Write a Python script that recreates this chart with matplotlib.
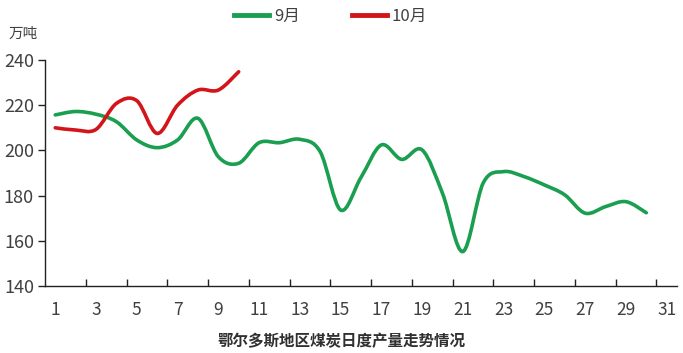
import matplotlib.pyplot as plt
from matplotlib.path import Path
from matplotlib.patches import PathPatch
from matplotlib.lines import Line2D

plt.rcParams['font.family'] = ['Liberation Sans Narrow', 'Noto Sans CJK SC', 'DejaVu Sans']

# 日度产量（万吨）
days = list(range(1, 32))
sep_days = list(range(1, 31))
sep_vals = [215.7, 217.2, 216.0, 212.7, 204.6, 201.2, 204.6, 214.2, 197.2, 194.3,
            203.4, 203.4, 204.9, 199.4, 173.6, 188.0, 202.4, 196.0, 200.2, 181.0,
            155.2, 185.6, 190.6, 188.4, 184.7, 180.3, 172.2, 175.1, 177.3, 172.4]
oct_days = list(range(1, 11))
oct_vals = [210.0, 209.0, 209.3, 220.8, 222.0, 207.5, 220.0, 226.7, 226.7, 234.8]

y_ticks = [140, 160, 180, 200, 220, 240]
x_labels = [str(d) for d in days[::2]]

GREEN = '#1a9e50'
RED = '#d3141a'
CJK = ['Noto Sans CJK SC', 'DejaVu Sans']


def smooth_path(xs, ys):
    # Excel 风格平滑线：用三次贝塞尔曲线连接各点
    pts = list(zip(xs, ys))
    n = len(pts)
    verts = [pts[0]]
    codes = [Path.MOVETO]
    for i in range(n - 1):
        p0 = pts[i - 1] if i > 0 else pts[i]
        p1 = pts[i]
        p2 = pts[i + 1]
        p3 = pts[i + 2] if i + 2 < n else pts[i + 1]
        c1 = (p1[0] + (p2[0] - p0[0]) / 6, p1[1] + (p2[1] - p0[1]) / 6)
        c2 = (p2[0] - (p3[0] - p1[0]) / 6, p2[1] - (p3[1] - p1[1]) / 6)
        verts += [c1, c2, p2]
        codes += [Path.CURVE4] * 3
    return Path(verts, codes)


fig = plt.figure(figsize=(6.83, 3.53), dpi=100)
ax = fig.add_axes([0.066, 0.19, 0.925, 0.64])

for xs, ys, c in [(sep_days, sep_vals, GREEN), (oct_days, oct_vals, RED)]:
    ax.add_patch(PathPatch(smooth_path(xs, ys), fill=False, edgecolor=c,
                           lw=2.6, capstyle='round', joinstyle='round'))

ax.set_xlim(0.5, 31.5)
ax.set_ylim(140, 240)
ax.set_yticks(y_ticks)
ax.set_xticks(days[::2])
ax.set_xticklabels(x_labels)
ax.set_xticks([d + 0.5 for d in days[1:-1:2]], minor=True)

ax.tick_params(axis='x', which='major', length=0, pad=11, labelsize=12.5, labelcolor='#404040')
ax.tick_params(axis='x', which='minor', direction='in', length=5, width=1, color='#222222')
ax.tick_params(axis='y', direction='out', length=5, width=1, color='#222222',
               labelsize=13, labelcolor='#404040', pad=3)

for s in ['top', 'right']:
    ax.spines[s].set_visible(False)
for s in ['left', 'bottom']:
    ax.spines[s].set_color('#222222')
    ax.spines[s].set_linewidth(1)

fig.text(0.012, 0.905, '万吨', fontsize=10.5, color='#404040', ha='left', va='center',
         family=CJK)

handles = [Line2D([], [], color=GREEN, lw=3.5), Line2D([], [], color=RED, lw=3.5)]
fig.legend(handles, ['9月', '10月'], loc='center', bbox_to_anchor=(0.484, 0.953),
           ncol=2, frameon=False, fontsize=12,
           handlelength=2.1, columnspacing=3.1, handletextpad=0.3, labelcolor='#404040')

fig.text(0.5, 0.033, '鄂尔多斯地区煤炭日度产量走势情况', fontsize=11.2, fontweight='bold',
         color='#303030', ha='center', va='center', family=CJK)

fig.savefig('out.png', dpi=100)
